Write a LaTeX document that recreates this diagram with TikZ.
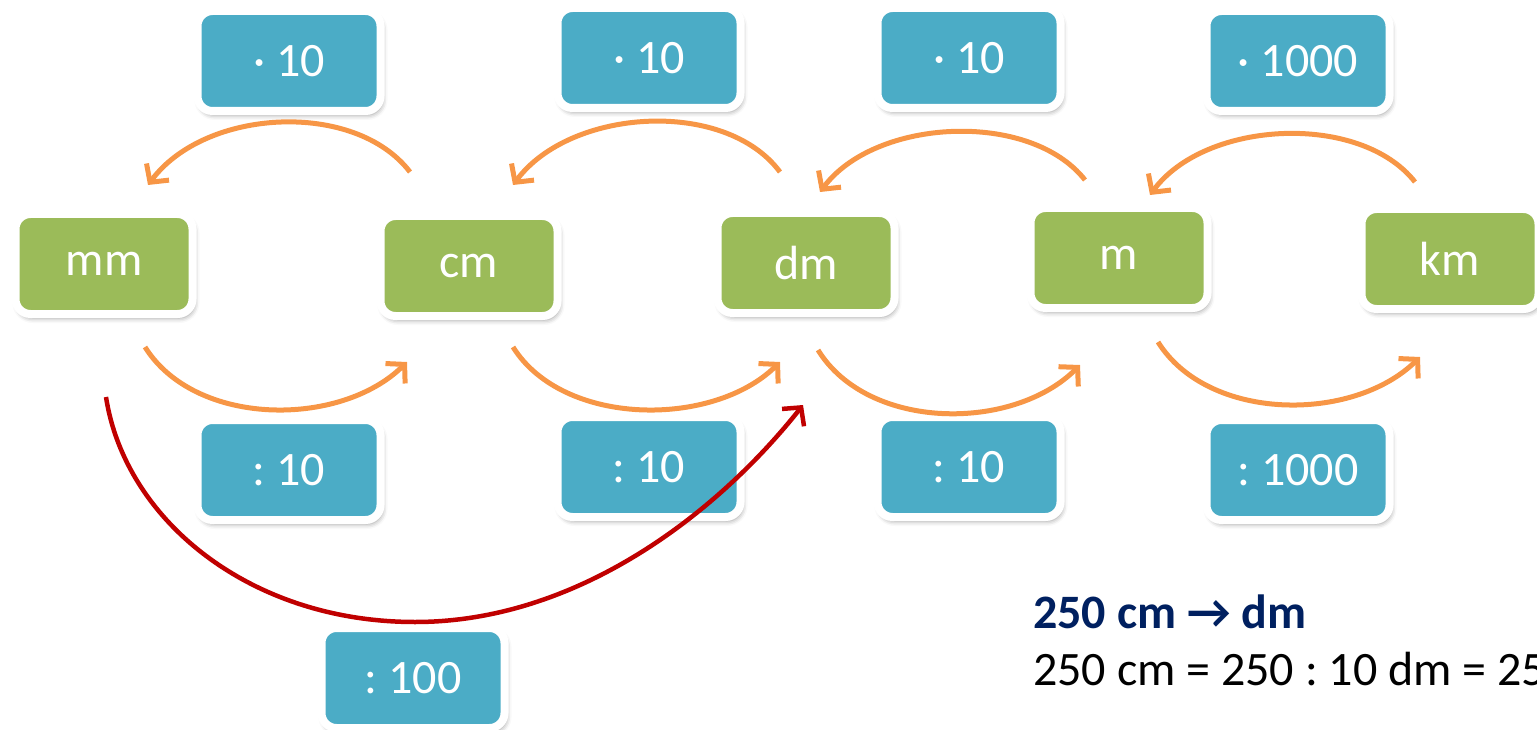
\documentclass[tikz,border=0pt]{standalone}
\usepackage{fontspec}
\setmainfont{Carlito}
\frenchspacing
\usetikzlibrary{arrows.meta,shadows.blur}
\definecolor{unitgreen}{HTML}{9BBB59}
\definecolor{opblue}{HTML}{4BACC6}
\definecolor{arroworange}{HTML}{F79646}
\definecolor{darkred}{HTML}{C00000}
\definecolor{navy}{HTML}{002060}
\tikzset{
  unitbox/.style={draw=white, line width=8pt, fill=unitgreen, rounded corners=15pt,
    minimum width=177pt, minimum height=100pt, inner sep=0pt, text=white,
    font=\fontsize{48}{52}\selectfont,
    blur shadow={shadow xshift=2pt, shadow yshift=-4pt, shadow blur radius=5pt, shadow opacity=40}},
  opbox/.style={unitbox, fill=opblue, minimum width=183pt},
  conv/.style={draw=arroworange, line width=5pt, -{Straight Barb[length=13pt,width=28pt]}},
  jump/.style={draw=darkred, line width=4.5pt, -{Straight Barb[length=13pt,width=28pt]}},
  txt/.style={anchor=base west, inner sep=0pt, font=\fontsize{48}{52}\selectfont},
}
\begin{document}
\begin{tikzpicture}[x=1pt,y=-1pt]
\useasboundingbox (0,0) rectangle (1537,730);
% unit boxes
\node[unitbox] (mm) at (104,264) {mm};
\node[unitbox] (cm) at (469,266) {cm};
\node[unitbox] (dm) at (806,263) {dm};
\node[unitbox] (m)  at (1119,258) {m};
\node[unitbox] (km) at (1450,259) {km};
% operator boxes
\node[opbox] (t1) at (289,61) {· 10};
\node[opbox] (t2) at (649,58) {· 10};
\node[opbox] (t3) at (969,58) {· 10};
\node[opbox] (t4) at (1298,61) {· 1000};
\node[opbox] (b1) at (289,470) {: 10};
\node[opbox] (b2) at (649,467) {: 10};
\node[opbox] (b3) at (969,467) {: 10};
\node[opbox] (b4) at (1298,470) {: 1000};
\node[opbox] (b0) at (413,678) {: 100};
% arrow end points
\coordinate (u1s) at (410,172); \coordinate (u1e) at (148,185);
\coordinate (u2s) at (780,172); \coordinate (u2e) at (513,185);
\coordinate (u3s) at (1085,180); \coordinate (u3e) at (820,192);
\coordinate (u4s) at (1415,182); \coordinate (u4e) at (1150,195);
\coordinate (l1s) at (145,347); \coordinate (l1e) at (407,362);
\coordinate (l2s) at (513,347); \coordinate (l2e) at (780,362);
\coordinate (l3s) at (818,350); \coordinate (l3e) at (1080,365);
\coordinate (l4s) at (1158,342); \coordinate (l4e) at (1420,357);
\coordinate (rs) at (106,397); \coordinate (rm) at (415,622); \coordinate (re) at (803,405);
% upper arrows
\draw[conv] (u1s) .. controls (355,100) and (205,108) .. (u1e);
\draw[conv] (u2s) .. controls (725,98) and (570,108) .. (u2e);
\draw[conv] (u3s) .. controls (1030,110) and (875,118) .. (u3e);
\draw[conv] (u4s) .. controls (1360,112) and (1205,120) .. (u4e);
% lower arrows
\draw[conv] (l1s) .. controls (195,427) and (340,428) .. (l1e);
\draw[conv] (l2s) .. controls (563,427) and (713,428) .. (l2e);
\draw[conv] (l3s) .. controls (868,431) and (1013,432) .. (l3e);
\draw[conv] (l4s) .. controls (1208,422) and (1353,423) .. (l4e);
% red jump
\draw[jump] (rs) .. controls (125,520) and (250,622) .. (rm) .. controls (580,622) and (720,510) .. (re);
% example text
\node[txt, text=navy, font=\fontsize{48}{52}\selectfont\bfseries] (ex1) at (1033,628) {250 cm → dm};
\node[txt] (ex2) at (1033,685) {250 cm = 250 : 10 dm = 25};
\end{tikzpicture}
\end{document}
